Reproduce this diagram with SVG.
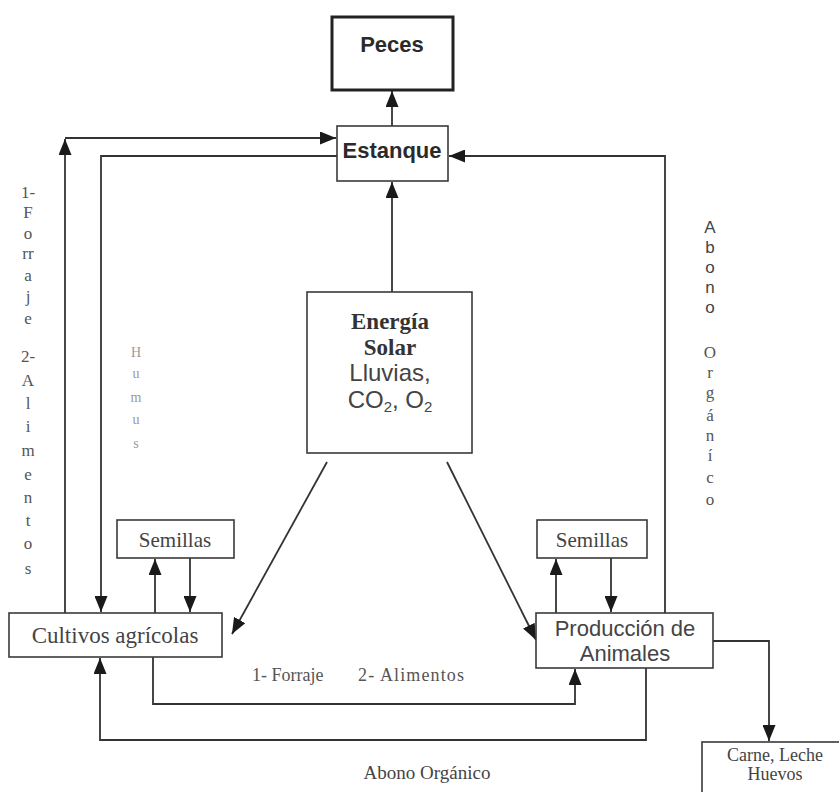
<svg xmlns="http://www.w3.org/2000/svg" width="839" height="792" viewBox="0 0 839 792">
<style>
.box{fill:#fff;stroke:#3a3a3a;stroke-width:1.6}
.bold-box{fill:#fff;stroke:#222;stroke-width:3}
.ln{fill:none;stroke:#333;stroke-width:1.8}
.sansb{font-family:"Liberation Sans",Arial,sans-serif;font-weight:bold;fill:#2a2a2a;text-anchor:middle}
.sans{font-family:"Liberation Sans",Arial,sans-serif;fill:#444;text-anchor:middle}
.serif{font-family:"Liberation Serif","Times New Roman",serif;fill:#444;text-anchor:middle}
.serifb{font-family:"Liberation Serif","Times New Roman",serif;font-weight:bold;fill:#333;text-anchor:middle}
.lbl{font-family:"Liberation Serif","Times New Roman",serif;fill:#555;font-size:17px;text-anchor:middle}
.lbls{font-family:"Liberation Serif","Times New Roman",serif;fill:#555;font-size:18px}
.hum{font-family:"Liberation Serif","Times New Roman",serif;fill:#9a9a9a;font-size:14px;text-anchor:middle}
</style>
<defs>
<marker id="ah" viewBox="0 0 16 13" refX="16" refY="6.5" markerWidth="16" markerHeight="13" markerUnits="userSpaceOnUse" orient="auto">
<path d="M0,0 L16,6.5 L0,13 z" fill="#1a1a1a"/>
</marker>
</defs>
<rect width="839" height="792" fill="#fff"/>

<g id="connectors">
<path class="ln" d="M392,126 V91" marker-end="url(#ah)"/>
<path class="ln" d="M392,292 V182" marker-end="url(#ah)"/>
<path class="ln" d="M65,613 V139" marker-end="url(#ah)"/>
<path class="ln" d="M65,138 H336" marker-end="url(#ah)"/>
<path class="ln" d="M337,156 H101 V612" marker-end="url(#ah)"/>
<path class="ln" d="M665,613 V156 H449" marker-end="url(#ah)"/>
<path class="ln" d="M327,462 L232,634" marker-end="url(#ah)"/>
<path class="ln" d="M447,462 L536,640" marker-end="url(#ah)"/>
<path class="ln" d="M155,613 V559" marker-end="url(#ah)"/>
<path class="ln" d="M190,558 V612" marker-end="url(#ah)"/>
<path class="ln" d="M556,613 V559" marker-end="url(#ah)"/>
<path class="ln" d="M611,558 V612" marker-end="url(#ah)"/>
<path class="ln" d="M153,657 V704 H575 V669" marker-end="url(#ah)"/>
<path class="ln" d="M646,668 V740 H100 V658" marker-end="url(#ah)"/>
<path class="ln" d="M713,641 H769 V741" marker-end="url(#ah)"/>
</g>

<g id="peces">
<rect class="bold-box" x="332" y="17" width="121" height="73"/>
<text class="sansb" x="392" y="52" font-size="22">Peces</text>
</g>

<g id="estanque">
<rect class="box" x="337" y="126" width="111" height="55"/>
<text class="sansb" x="392" y="158" font-size="22">Estanque</text>
</g>

<g id="energia">
<rect class="box" x="307" y="292" width="165" height="161"/>
<text class="serifb" x="390" y="329" font-size="23">Energía</text>
<text class="serifb" x="390" y="355" font-size="23">Solar</text>
<text class="sans" x="390" y="381" font-size="24">Lluvias,</text>
<text class="sans" x="390" y="408" font-size="24">CO<tspan font-size="15" dy="4">2</tspan><tspan dy="-4">, O</tspan><tspan font-size="15" dy="4">2</tspan></text>
</g>

<g id="cultivos">
<rect class="box" x="9" y="613" width="213" height="44"/>
<text class="serif" x="115" y="643" font-size="23">Cultivos agrícolas</text>
</g>

<g id="semillas-izq">
<rect class="box" x="117" y="520" width="117" height="38"/>
<text class="serif" x="175" y="547" font-size="21">Semillas</text>
</g>

<g id="produccion">
<rect class="box" x="536" y="613" width="177" height="55"/>
<text class="sans" x="625" y="636" font-size="22">Producción de</text>
<text class="sans" x="625" y="661" font-size="22">Animales</text>
</g>

<g id="semillas-der">
<rect class="box" x="537" y="520" width="110" height="38"/>
<text class="serif" x="592" y="547" font-size="21">Semillas</text>
</g>

<g id="carne">
<rect class="box" x="702" y="742" width="160" height="70"/>
<text class="serif" x="775" y="761" font-size="18">Carne, Leche</text>
<text class="serif" x="775" y="780" font-size="18">Huevos</text>
</g>

<g id="label-forraje-vertical" class="lbl">
<text x="28" y="198">1-</text>
<text x="28" y="218">F</text>
<text x="28" y="239">o</text>
<text x="28" y="259">rr</text>
<text x="28" y="281">a</text>
<text x="28" y="302">j</text>
<text x="28" y="324">e</text>
<text x="28" y="362">2-</text>
<text x="28" y="386">A</text>
<text x="28" y="409">l</text>
<text x="28" y="432">i</text>
<text x="28" y="456">m</text>
<text x="28" y="480">e</text>
<text x="28" y="503">n</text>
<text x="28" y="526">t</text>
<text x="28" y="549">o</text>
<text x="28" y="574">s</text>
</g>

<g id="label-humus" class="hum">
<text x="136" y="357">H</text>
<text x="136" y="378">u</text>
<text x="136" y="402">m</text>
<text x="136" y="424">u</text>
<text x="136" y="448">s</text>
</g>

<g id="label-abono-vertical">
<text class="sans" x="710" y="233" font-size="17">A</text>
<text class="sans" x="710" y="253" font-size="17">b</text>
<text class="sans" x="710" y="273" font-size="17">o</text>
<text class="sans" x="710" y="293" font-size="17">n</text>
<text class="sans" x="710" y="313" font-size="17">o</text>
<text class="lbl" x="710" y="358">O</text>
<text class="lbl" x="710" y="378">r</text>
<text class="lbl" x="710" y="398">g</text>
<text class="lbl" x="710" y="421">á</text>
<text class="lbl" x="710" y="441">n</text>
<text class="lbl" x="710" y="461">í</text>
<text class="lbl" x="710" y="483">c</text>
<text class="lbl" x="710" y="505">o</text>
</g>

<g id="label-forraje">
<text class="lbls" x="252" y="681">1- Forraje</text>
<text class="lbls" x="358" y="681" textLength="106" lengthAdjust="spacing">2- Alimentos</text>
</g>

<g id="label-abono">
<text class="serif" x="427" y="779" font-size="19" fill="#333">Abono Orgánico</text>
</g>
</svg>
